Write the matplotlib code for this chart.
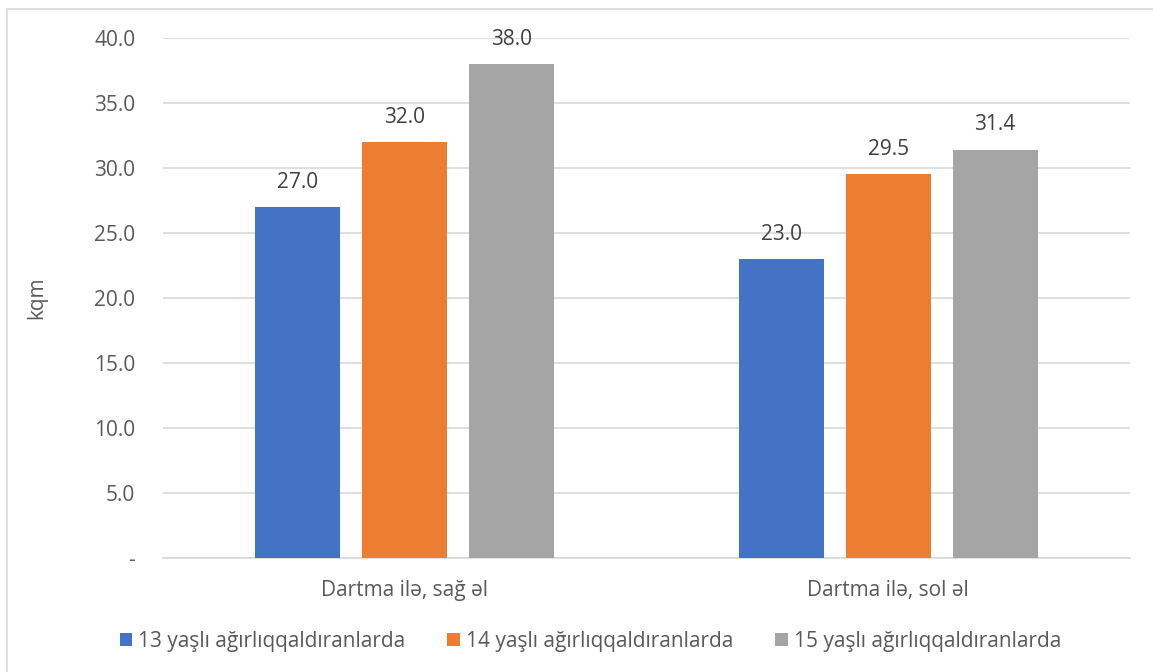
import numpy as np
import matplotlib.pyplot as plt
from matplotlib.patches import Rectangle

categories = ['Dartma ilə, sağ əl', 'Dartma ilə, sol əl']
series_names = ['13 yaşlı ağırlıqqaldıranlarda',
                '14 yaşlı ağırlıqqaldıranlarda',
                '15 yaşlı ağırlıqqaldıranlarda']
values_13 = [27.0, 23.0]
values_14 = [32.0, 29.5]
values_15 = [38.0, 31.4]
yticks = [0, 5, 10, 15, 20, 25, 30, 35, 40]

colors = ['#4472C4', '#ED7D31', '#A5A5A5']
text_color = '#595959'
fs = 15
plt.rcParams['font.family'] = ['Open Sans', 'DejaVu Sans']

fig = plt.figure(figsize=(11.53, 6.72), dpi=100)
ax = fig.add_axes([0.1414, 0.1696, 0.8386, 0.7739])

# outer chart border
fig.patches.append(Rectangle((7 / 1153, -0.05), 1.2, 1.05 - 9 / 672,
                             transform=fig.transFigure, fill=False,
                             edgecolor='#D9D9D9', linewidth=1.2))

x = np.arange(len(categories))
width = 0.176
step = 0.221
for i, (vals, name) in enumerate(zip([values_13, values_14, values_15], series_names)):
    pos = x + (i - 1) * step
    bars = ax.bar(pos, vals, width=width, color=colors[i], label=name, zorder=3)
    for b, v in zip(bars, vals):
        ax.text(b.get_x() + b.get_width() / 2, v + 1.1, f'{v:.1f}',
                ha='center', va='bottom', fontsize=fs, color='#404040')

ax.set_xlim(-0.5, 1.5)
ax.set_ylim(0, 40)
ax.set_yticks(yticks)
ax.set_yticklabels(['-' if t == 0 else f'{t:.1f}' for t in yticks])
ax.set_xticks(x)
ax.set_xticklabels(categories)
ax.tick_params(axis='both', length=0, colors=text_color, labelsize=fs)
ax.tick_params(axis='y', pad=20)
ax.tick_params(axis='x', pad=16)
ax.grid(axis='y', color='#D9D9D9', linewidth=1.2, zorder=0)
for s in ['top', 'right', 'left']:
    ax.spines[s].set_visible(False)
ax.spines['bottom'].set_color('#D9D9D9')
ax.spines['bottom'].set_linewidth(1.2)

ax.set_ylabel('kqm', fontsize=fs, color=text_color, labelpad=34)

fig.legend(loc='center', bbox_to_anchor=(0.512, 0.046), ncol=3, frameon=False,
           fontsize=fs, handlelength=0.6, handleheight=0.6, handletextpad=0.3,
           columnspacing=2.0, labelcolor=text_color)

fig.savefig('out.png', dpi=100)
